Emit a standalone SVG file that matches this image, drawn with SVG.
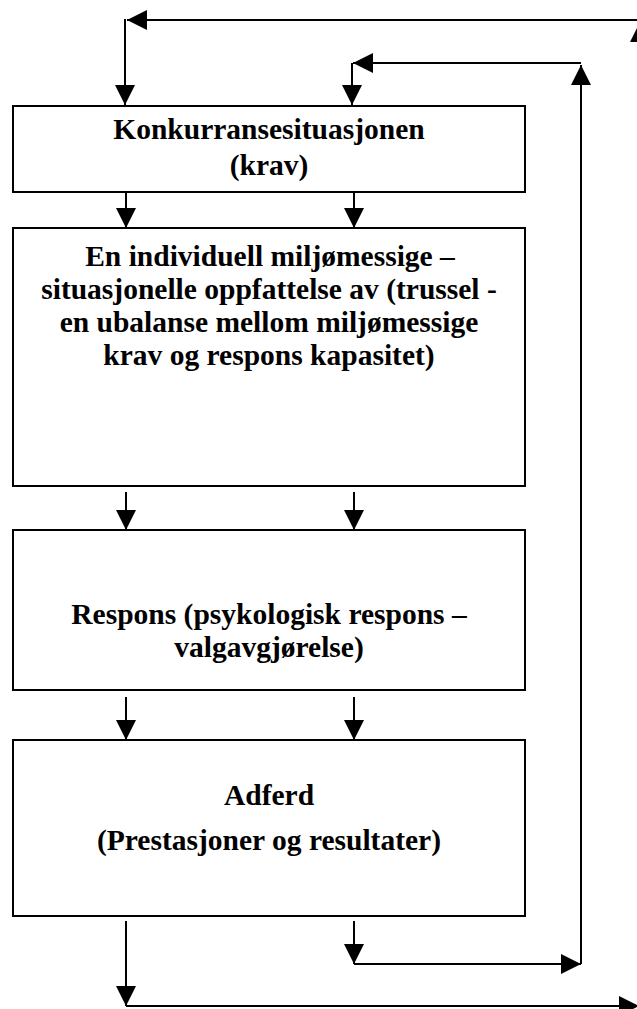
<svg xmlns="http://www.w3.org/2000/svg" width="637" height="1009" viewBox="0 0 637 1009">
  <defs>
    <marker id="ah" viewBox="0 0 20 20" refX="20" refY="10" markerWidth="20" markerHeight="20" markerUnits="userSpaceOnUse" orient="auto">
      <path d="M0,0 L20,10 L0,20 Z" fill="#000"/>
    </marker>
    <style>
      .box { fill: #fff; stroke: #000; stroke-width: 2; }
      .lbl { font-family: "Liberation Serif", "Times New Roman", serif; font-weight: bold; font-size: 29.5px; fill: #000; text-anchor: middle; }
      .c { fill: none; stroke: #000; stroke-width: 2; }
      .a { fill: none; stroke: #000; stroke-width: 2; marker-end: url(#ah); }
    </style>
  </defs>
  <rect width="637" height="1009" fill="#fff"/>

  <g id="connectors">
    <!-- outer feedback loop -->
    <path class="a" d="M126,921 V1006"/>
    <path class="a" d="M126,1006 H639"/>
    <path class="a" d="M640,1006 V22"/>
    <path class="a" d="M640,20 H127"/>
    <path class="a" d="M125,19 V105"/>
    <!-- inner feedback loop -->
    <path class="a" d="M354,921 V964"/>
    <path class="a" d="M354,964 H581"/>
    <path class="a" d="M581,964 V65"/>
    <path class="a" d="M581,63 H353"/>
    <path class="a" d="M352,63 V105"/>
    <!-- box to box -->
    <path class="a" d="M126,193 V228"/>
    <path class="a" d="M354,193 V228"/>
    <path class="a" d="M126,492 V530"/>
    <path class="a" d="M354,492 V530"/>
    <path class="a" d="M126,697 V740"/>
    <path class="a" d="M354,697 V740"/>
  </g>

  <g id="node-konkurranse">
    <rect class="box" x="13" y="106" width="512" height="86"/>
    <text class="lbl" x="269" y="139">Konkurransesituasjonen</text>
    <text class="lbl" x="269" y="175">(krav)</text>
  </g>

  <g id="node-oppfattelse">
    <rect class="box" x="13" y="228" width="512" height="258"/>
    <text class="lbl" x="270" y="266">En individuell miljømessige –</text>
    <text class="lbl" x="269" y="299">situasjonelle oppfattelse av (trussel -</text>
    <text class="lbl" x="269" y="332">en ubalanse mellom miljømessige</text>
    <text class="lbl" x="269" y="365">krav og respons kapasitet)</text>
  </g>

  <g id="node-respons">
    <rect class="box" x="13" y="530" width="512" height="160"/>
    <text class="lbl" x="269" y="624">Respons (psykologisk respons –</text>
    <text class="lbl" x="269" y="657">valgavgjørelse)</text>
  </g>

  <g id="node-adferd">
    <rect class="box" x="13" y="740" width="512" height="176"/>
    <text class="lbl" x="269" y="805">Adferd</text>
    <text class="lbl" x="269" y="850">(Prestasjoner og resultater)</text>
  </g>
</svg>
